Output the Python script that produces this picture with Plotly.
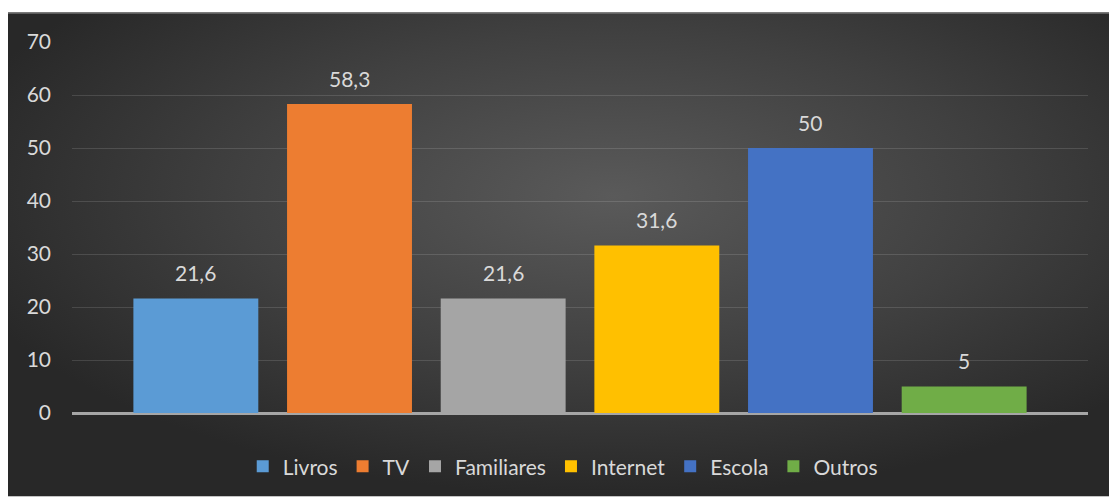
import base64
import plotly.graph_objects as go

# Sources of information (percent of respondents)
categories = ["Livros", "TV", "Familiares", "Internet", "Escola", "Outros"]
values = [21.6, 58.3, 21.6, 31.6, 50, 5]
colors = ["#5b9bd5", "#ed7d31", "#a5a5a5", "#ffc000", "#4472c4", "#70ad47"]
y_ticks = [0, 10, 20, 30, 40, 50, 60, 70]

FONT = "Lato"
FONT_SIZE = 21
TEXT_COLOR = "#d9d9d9"

# Dark panel with a soft radial glow, used as the chart background
svg = (
    "<svg xmlns='http://www.w3.org/2000/svg' width='1101' height='487' "
    "preserveAspectRatio='none' viewBox='0 0 1101 487'>"
    "<defs><radialGradient id='g' cx='0.55' cy='0.38' r='0.62'>"
    "<stop offset='0' stop-color='#5a5a5a'/>"
    "<stop offset='0.55' stop-color='#404040'/>"
    "<stop offset='1' stop-color='#282828'/>"
    "</radialGradient></defs>"
    "<rect width='1101' height='487' fill='url(#g)'/>"
    "<rect width='1101' height='1.5' fill='#7a7a7a'/>"
    "</svg>"
)
bg_src = "data:image/svg+xml;base64," + base64.b64encode(svg.encode()).decode()

fig = go.Figure()

for i, (cat, val, col) in enumerate(zip(categories, values, colors)):
    fig.add_trace(
        go.Bar(
            x=[i],
            y=[val],
            name=cat,
            width=0.813,
            marker=dict(color=col, line=dict(width=0)),
            hoverinfo="name+y",
        )
    )
    fig.add_annotation(
        x=i,
        y=val,
        text=f"{val:g}".replace(".", ","),
        showarrow=False,
        yanchor="middle",
        yshift=26,
        font=dict(family=FONT, size=FONT_SIZE, color=TEXT_COLOR),
    )

W, H = 1109, 499
ml, mr, mt, mb = 72, 21, 42, 84
pw, ph = W - ml - mr, H - mt - mb
legend_center_px = 469  # vertical centre of the legend row, from the top

fig.update_layout(
    width=W,
    height=H,
    margin=dict(l=ml, r=mr, t=mt, b=mb),
    paper_bgcolor="white",
    plot_bgcolor="rgba(0,0,0,0)",
    barmode="overlay",
    showlegend=True,
    font=dict(family=FONT, size=FONT_SIZE, color=TEXT_COLOR),
    legend=dict(
        orientation="h",
        x=0.483,
        xanchor="center",
        y=((H - mb) - legend_center_px) / ph,
        yanchor="middle",
        font=dict(family=FONT, size=FONT_SIZE, color=TEXT_COLOR),
        bgcolor="rgba(0,0,0,0)",
        itemwidth=30,
        traceorder="normal",
    ),
    xaxis=dict(
        range=[-0.806, len(categories) - 1 + 0.806],
        showticklabels=False,
        showgrid=False,
        zeroline=False,
        showline=False,
        fixedrange=True,
    ),
    yaxis=dict(
        range=[0, 70],
        tickvals=y_ticks,
        ticktext=[str(t) for t in y_ticks],
        showgrid=True,
        gridcolor="rgba(255,255,255,0.13)",
        gridwidth=1,
        zeroline=True,
        zerolinecolor="#a6a6a6",
        zerolinewidth=2.5,
        showline=False,
        ticks="",
        ticklabelstandoff=20,
        tickfont=dict(family=FONT, size=FONT_SIZE, color=TEXT_COLOR),
        fixedrange=True,
    ),
    images=[
        dict(
            source=bg_src,
            xref="paper",
            yref="paper",
            x=(8 - ml) / pw,
            y=(H - mb - 12) / ph,
            sizex=(W - 8) / pw,
            sizey=(H - 12) / ph,
            xanchor="left",
            yanchor="top",
            sizing="stretch",
            layer="below",
        )
    ],
)

fig.write_html("out.html")
